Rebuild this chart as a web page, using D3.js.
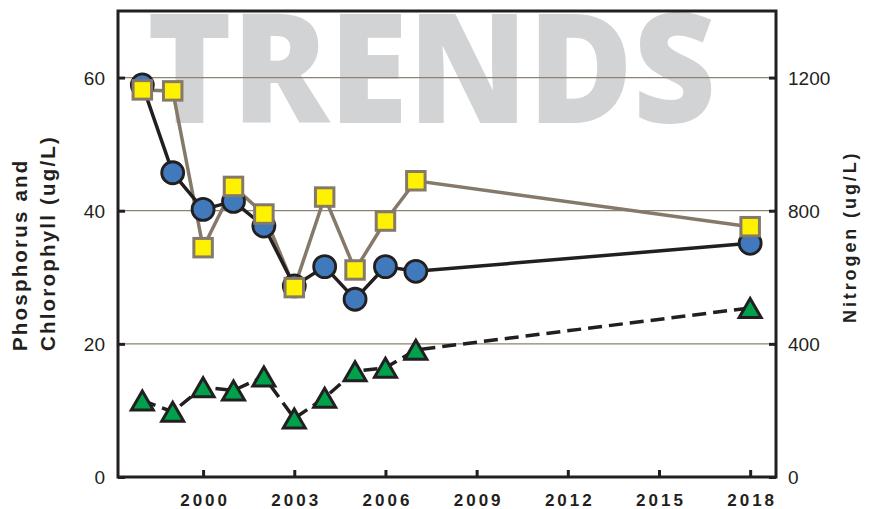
<!DOCTYPE html>
<html><head><meta charset="utf-8">
<script src="https://cdn.jsdelivr.net/npm/d3@7"></script>
<style>html,body{margin:0;padding:0;background:#fff;}svg{display:block;}</style>
</head><body>
<svg id="chart" width="883" height="509"></svg>
<script>
const years = [1998, 1999, 2000, 2001, 2002, 2003, 2004, 2005, 2006, 2007, 2018];
const phosphorus = [58.9, 45.7, 40.2, 41.4, 37.7, 28.7, 31.6, 26.7, 31.6, 30.9, 35.1];
const chlorophyll = [11.5, 9.8, 13.5, 13.0, 15.1, 8.8, 11.9, 15.9, 16.4, 19.1, 25.4];
const nitrogen = [1163, 1160, 689, 873, 790, 569, 841, 622, 769, 890, 752];
const xTicks = [2000, 2003, 2006, 2009, 2012, 2015, 2018];
const leftTicks = [0, 20, 40, 60];
const rightTicks = [0, 400, 800, 1200];
const xDomain = [1997.2, 2018.85];
const leftDomain = [0, 70];
const rightDomain = [0, 1400];

const svg = d3.select("#chart");
const L = 118, R = 776, T = 11, B = 477;
const ink = "#231f20";
const x = d3.scaleLinear().domain(xDomain).range([L, R]);
const yL = d3.scaleLinear().domain(leftDomain).range([B, T]);
const yR = d3.scaleLinear().domain(rightDomain).range([B, T]);

// watermark
svg.append("text").attr("x", 147).attr("y", 123)
  .attr("font-family", "'Open Sans', sans-serif").attr("font-weight", 800)
  .attr("font-size", 152).attr("fill", "#d1d3d4")
  .attr("textLength", 569).attr("lengthAdjust", "spacingAndGlyphs")
  .text("TRENDS");

// gridlines
svg.append("g").selectAll("line").data(leftTicks.filter(d => d > 0)).join("line")
  .attr("x1", L).attr("x2", R).attr("y1", d => yL(d)).attr("y2", d => yL(d))
  .attr("stroke", "#8c8273").attr("stroke-width", 1.2);

// axes
const axB = svg.append("g").attr("transform", `translate(0,${B})`)
  .call(d3.axisTop(x).tickValues(xTicks).tickSize(7).tickFormat(d3.format("d")));
axB.select(".domain").remove();
axB.selectAll(".tick line").attr("stroke", ink).attr("stroke-width", 3);
axB.selectAll(".tick text").attr("y", 29).attr("dy", 0).attr("dx", 1.5)
  .attr("font-family", "'Liberation Sans', Arial, sans-serif").attr("font-weight", 700)
  .attr("font-size", 17).attr("letter-spacing", 3).attr("fill", ink);

const axL = svg.append("g").attr("transform", `translate(${L},0)`)
  .call(d3.axisRight(yL).tickValues(leftTicks).tickSize(7).tickFormat(d3.format("d")));
axL.select(".domain").remove();
axL.selectAll(".tick line").attr("stroke", ink).attr("stroke-width", 3);
axL.selectAll(".tick text").attr("x", -13).attr("text-anchor", "end").attr("dy", "0.35em")
  .attr("font-family", "'Liberation Sans', Arial, sans-serif").attr("font-size", 19).attr("fill", ink);

const axR = svg.append("g").attr("transform", `translate(${R},0)`)
  .call(d3.axisLeft(yR).tickValues(rightTicks).tickSize(7).tickFormat(d3.format("d")));
axR.select(".domain").remove();
axR.selectAll(".tick line").attr("stroke", ink).attr("stroke-width", 3);
axR.selectAll(".tick text").attr("x", 12).attr("text-anchor", "start").attr("dy", "0.35em")
  .attr("font-family", "'Liberation Sans', Arial, sans-serif").attr("font-size", 19).attr("fill", ink);

// frame
svg.append("rect").attr("x", L).attr("y", T).attr("width", R - L).attr("height", B - T)
  .attr("fill", "none").attr("stroke", ink).attr("stroke-width", 3);

// axis titles
const lt = svg.append("g").attr("font-family", "'Liberation Sans', Arial, sans-serif")
  .attr("font-weight", 700).attr("font-size", 20.5).attr("letter-spacing", 2.2).attr("fill", ink);
lt.append("text").attr("transform", "translate(27,351) rotate(-90)").text("Phosphorus and");
lt.append("text").attr("transform", "translate(55,351) rotate(-90)").text("Chlorophyll (ug/L)");
svg.append("text").attr("transform", "translate(856,323) rotate(-90)")
  .attr("font-family", "'Liberation Sans', Arial, sans-serif").attr("font-weight", 700)
  .attr("font-size", 18).attr("letter-spacing", 2.9).attr("fill", ink)
  .text("Nitrogen (ug/L)");

// lines
const idx = d3.range(years.length);
const lineN = d3.line().x(i => x(years[i])).y(i => yR(nitrogen[i]));
const lineP = d3.line().x(i => x(years[i])).y(i => yL(phosphorus[i]));
const lineC = d3.line().x(i => x(years[i])).y(i => yL(chlorophyll[i]));

svg.append("path").attr("d", lineN(idx)).attr("fill", "none").attr("stroke", "#85796a").attr("stroke-width", 3.5);
svg.append("path").attr("d", lineP(idx)).attr("fill", "none").attr("stroke", ink).attr("stroke-width", 3.5);
svg.append("path").attr("d", lineC(idx)).attr("fill", "none").attr("stroke", ink).attr("stroke-width", 3.5)
  .attr("stroke-dasharray", "14,7");

// markers
svg.append("g").selectAll("circle").data(idx).join("circle")
  .attr("cx", i => x(years[i])).attr("cy", i => yL(phosphorus[i])).attr("r", 11)
  .attr("fill", "#4179bd").attr("stroke", ink).attr("stroke-width", 2.8);

const sq = 18.5;
svg.append("g").selectAll("rect").data(idx).join("rect")
  .attr("x", i => x(years[i]) - sq / 2).attr("y", i => yR(nitrogen[i]) - sq / 2)
  .attr("width", sq).attr("height", sq)
  .attr("fill", "#fff200").attr("stroke", "#85796a").attr("stroke-width", 3);

const tw = 11, th = 9.5;
svg.append("g").selectAll("path").data(idx).join("path")
  .attr("transform", i => `translate(${x(years[i])},${yL(chlorophyll[i])})`)
  .attr("d", `M0,${-th}L${tw},${th}L${-tw},${th}Z`)
  .attr("fill", "#00a14b").attr("stroke", ink).attr("stroke-width", 3).attr("stroke-linejoin", "miter");
</script>
</body></html>
